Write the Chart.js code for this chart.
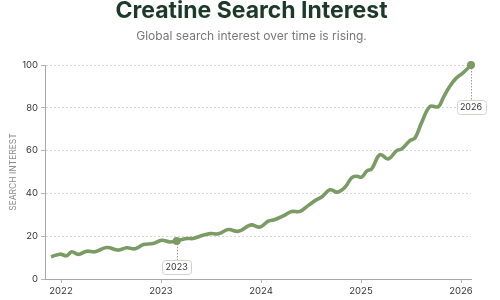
<!DOCTYPE html>
<html>
<head>
<meta charset="utf-8">
<script src="https://cdn.jsdelivr.net/npm/chart.js@4"></script>
<style>
  html, body { margin: 0; padding: 0; background: #ffffff; }
  #wrap { width: 500px; height: 300px; position: relative; }
</style>
</head>
<body>
<div id="wrap"><canvas id="c" width="500" height="300"></canvas></div>
<script>
// Dates as decimal years
const dates = [
  2021.90, 2021.99, 2022.057, 2022.107, 2022.173, 2022.257, 2022.34, 2022.457,
  2022.573, 2022.657, 2022.74, 2022.823, 2022.923, 2023.007, 2023.09, 2023.157,
  2023.257, 2023.32, 2023.39, 2023.49, 2023.573, 2023.673, 2023.773, 2023.873,
  2023.91, 2023.99, 2024.073, 2024.14, 2024.223, 2024.307, 2024.39, 2024.473,
  2024.557, 2024.607, 2024.69, 2024.763, 2024.84, 2024.907, 2024.957, 2025.007,
  2025.057, 2025.107, 2025.19, 2025.273, 2025.357, 2025.407, 2025.49, 2025.54,
  2025.607, 2025.69, 2025.773, 2025.823, 2025.89, 2025.957, 2026.023, 2026.10
];
// Search interest values (0-100)
const interest = [
  10.4, 11.6, 10.9, 12.7, 11.5, 13.0, 12.7, 14.7,
  13.5, 14.6, 14.1, 16.1, 16.6, 18.1, 17.3, 17.8,
  18.9, 18.9, 20.0, 21.2, 21.1, 23.1, 22.3, 24.8,
  25.3, 24.3, 27.0, 27.8, 29.5, 31.5, 31.6, 34.4,
  37.1, 38.3, 41.7, 40.6, 42.9, 47.3, 48.0, 47.6,
  50.4, 51.5, 58.1, 56.1, 60.0, 60.8, 64.7, 65.9,
  73.2, 80.6, 80.5, 84.8, 90.2, 94.1, 96.4, 100
];
const yearTicks = [2022, 2023, 2024, 2025, 2026];
const yTicks = [0, 20, 40, 60, 80, 100];
const highlightIndex = [15, 55];
const highlightLabels = ['2023', '2026'];

const lineColor = '#7b9b65';

const calloutPlugin = {
  id: 'callouts',
  afterDatasetsDraw(chart, args, opts) {
    const ctx = chart.ctx;
    const meta = chart.getDatasetMeta(0);
    const offsets = opts.offsets;
    highlightIndex.forEach((idx, k) => {
      const pt = meta.data[idx];
      const x = pt.x, y = pt.y;
      const boxW = 29, boxH = 14;
      const boxTop = y + offsets[k];
      ctx.save();
      ctx.strokeStyle = '#9a9a9a';
      ctx.lineWidth = 1;
      ctx.setLineDash([1.5, 1.5]);
      ctx.beginPath();
      ctx.moveTo(Math.round(x) + 0.5, y);
      ctx.lineTo(Math.round(x) + 0.5, boxTop);
      ctx.stroke();
      ctx.setLineDash([]);
      ctx.fillStyle = '#ffffff';
      ctx.strokeStyle = '#cfd3cc';
      ctx.beginPath();
      ctx.roundRect(Math.round(x - boxW / 2) + 0.5, Math.round(boxTop) + 0.5, boxW, boxH, 3);
      ctx.fill();
      ctx.stroke();
      ctx.fillStyle = '#333333';
      ctx.font = '9px Inter, "Noto Sans", sans-serif';
      ctx.textAlign = 'center';
      ctx.textBaseline = 'middle';
      ctx.fillText(highlightLabels[k], x, boxTop + boxH / 2 + 0.5);
      // marker on top
      ctx.fillStyle = lineColor;
      ctx.beginPath();
      ctx.arc(x, y, 4, 0, Math.PI * 2);
      ctx.fill();
      ctx.restore();
    });
  }
};

new Chart(document.getElementById('c'), {
  type: 'line',
  data: {
    datasets: [{
      data: dates.map((d, i) => ({ x: d, y: interest[i] })),
      borderColor: lineColor,
      backgroundColor: lineColor,
      borderWidth: 3.6,
      tension: 0.4,
      pointRadius: 0,
      pointHoverRadius: 0,
      fill: false
    }]
  },
  plugins: [calloutPlugin],
  options: {
    responsive: false,
    animation: false,
    events: [],
    layout: { padding: { left: 8, right: 5, top: 0, bottom: 0 } },
    plugins: {
      legend: { display: false },
      tooltip: { enabled: false },
      callouts: { offsets: [19, 35] },
      title: {
        display: true,
        text: 'Creatine Search Interest',
        color: '#1d3a29',
        font: { family: 'Inter, "Noto Sans", sans-serif', size: 23, weight: '700', lineHeight: 1.0 },
        padding: { top: 0, bottom: 6 }
      },
      subtitle: {
        display: true,
        text: 'Global search interest over time is rising.',
        color: '#777777',
        font: { family: 'Inter, "Noto Sans", sans-serif', size: 12, weight: '400', lineHeight: 1.0 },
        padding: { top: 1, bottom: 23 }
      }
    },
    scales: {
      x: {
        type: 'linear',
        min: 2021.84,
        max: 2026.10,
        afterBuildTicks: (s) => { s.ticks = yearTicks.map(v => ({ value: v })); },
        afterFit: (s) => { s.height = 21; },
        ticks: {
          color: '#333333',
          font: { family: 'Inter, "Noto Sans", sans-serif', size: 9.5 },
          padding: 2,
          maxRotation: 0,
          callback: (v) => String(v)
        },
        grid: { drawOnChartArea: false, drawTicks: true, tickLength: 4, color: '#b5b5b5' },
        border: { display: true, color: '#a8a8a8', width: 1 }
      },
      y: {
        min: 0,
        max: 100,
        afterBuildTicks: (s) => { s.ticks = yTicks.map(v => ({ value: v })); },
        afterFit: (s) => { s.width = 37; },
        ticks: {
          color: '#333333',
          font: { family: 'Inter, "Noto Sans", sans-serif', size: 9.5 },
          padding: 3
        },
        title: {
          display: true,
          text: 'SEARCH INTEREST',
          color: '#8a8a8a',
          font: { family: 'Inter, "Noto Sans", sans-serif', size: 8.5 },
          padding: { top: 0, bottom: 0 }
        },
        grid: { color: '#d6d6d6', tickColor: '#b5b5b5', tickLength: 4, drawTicks: true },
        border: { display: true, color: '#a8a8a8', width: 1, dash: [2, 2] }
      },
      yRight: {
        position: 'right',
        min: 0,
        max: 100,
        afterFit: (s) => { s.width = 24; },
        ticks: { display: false },
        grid: { display: false, drawTicks: false },
        border: { display: false }
      }
    }
  }
});
</script>
</body>
</html>
